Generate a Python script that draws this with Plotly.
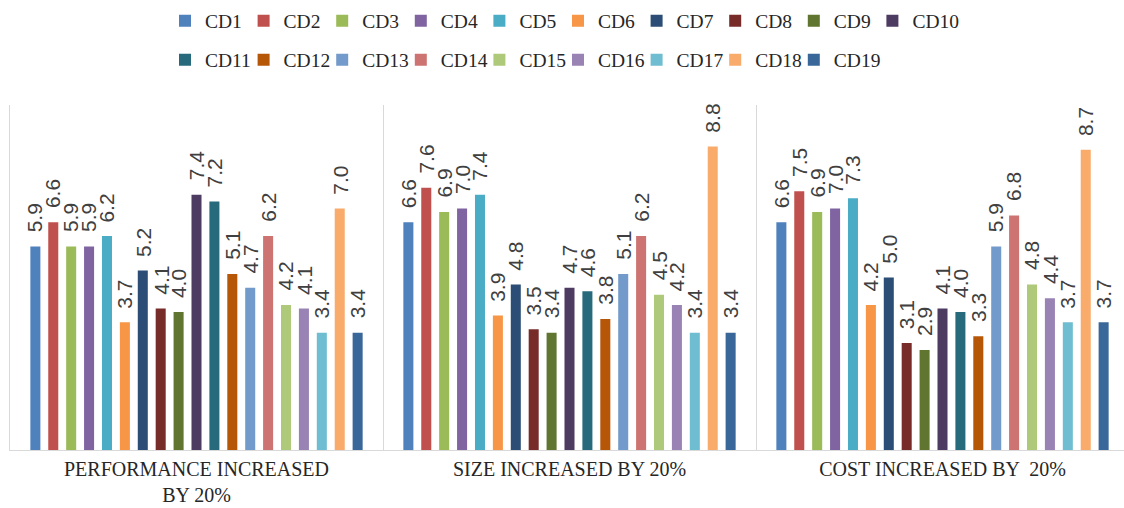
import plotly.graph_objects as go

# Category labels (x axis)
categories = ["PERFORMANCE INCREASED<br>BY 20%", "SIZE INCREASED BY 20%", "COST INCREASED BY  20%"]

# Series names
series = ["CD1", "CD2", "CD3", "CD4", "CD5", "CD6", "CD7", "CD8", "CD9", "CD10",
          "CD11", "CD12", "CD13", "CD14", "CD15", "CD16", "CD17", "CD18", "CD19"]

# Values per category, one entry per series
performance = [5.9, 6.6, 5.9, 5.9, 6.2, 3.7, 5.2, 4.1, 4.0, 7.4, 7.2, 5.1, 4.7, 6.2, 4.2, 4.1, 3.4, 7.0, 3.4]
size_vals = [6.6, 7.6, 6.9, 7.0, 7.4, 3.9, 4.8, 3.5, 3.4, 4.7, 4.6, 3.8, 5.1, 6.2, 4.5, 4.2, 3.4, 8.8, 3.4]
cost = [6.6, 7.5, 6.9, 7.0, 7.3, 4.2, 5.0, 3.1, 2.9, 4.1, 4.0, 3.3, 5.9, 6.8, 4.8, 4.4, 3.7, 8.7, 3.7]

colors = ["#4F81BD", "#C0504D", "#9BBB59", "#8064A2", "#4BACC6", "#F79646", "#2C4D75",
          "#772C2A", "#5F7530", "#4D3B62", "#276A7C", "#B65708", "#729ACA", "#CD7371",
          "#AFC97A", "#9983B5", "#6FBDD1", "#F9AB6B", "#3A6799"]

W, H = 1124, 508
M_L, M_R, M_T, M_B = 10, 0, 105, 58
GROUP_PX = 373  # pixel width of one category band
BARGAP = 0.088
BARGROUPGAP = 0.44
ROW_SPLIT = 10      # first legend row holds CD1..CD10
ENTRY_W = 33.6      # legend column width (plus the built-in symbol gap)

SERIF = "Liberation Serif"
SANS = "Liberation Sans"

groups = [performance, size_vals, cost]
n = len(series)
slot = (1 - BARGAP) / n

fig = go.Figure()
annotations = []
for j, name in enumerate(series):
    vals = [g[j] for g in groups]
    last_in_row = j == ROW_SPLIT - 1 or j == n - 1
    fig.add_trace(go.Bar(
        x=categories, y=vals, name=name,
        marker=dict(color=colors[j], line=dict(width=0)),
        legend="legend" if j < ROW_SPLIT else "legend2",
        legendwidth=70 if last_in_row else ENTRY_W,
        hoverinfo="skip",
    ))
    # value labels, rotated, sitting just above each bar
    for i, v in enumerate(vals):
        annotations.append(dict(
            x=i + (j - (n - 1) / 2) * slot, y=v, xref="x", yref="y",
            text=f"{v:.1f}", textangle=-90, showarrow=False,
            xanchor="center", yanchor="bottom", yshift=12,
            font=dict(family=SANS, size=21, color="#404040"),
        ))

plot_w = W - M_L - M_R
legend_font = dict(family=SERIF, size=19.5, color="#262626")
legend_common = dict(
    orientation="h", xref="container", yref="container",
    xanchor="left", yanchor="middle", font=legend_font,
    traceorder="normal", bgcolor="rgba(0,0,0,0)",
    itemwidth=30, entrywidthmode="pixels",
)

fig.update_layout(
    width=W, height=H,
    margin=dict(l=M_L, r=M_R, t=M_T, b=M_B),
    paper_bgcolor="white", plot_bgcolor="white",
    font=dict(family=SERIF),
    barmode="group", bargap=BARGAP, bargroupgap=BARGROUPGAP,
    annotations=annotations,
    xaxis=dict(
        type="category", automargin=False,
        range=[-0.5, -0.5 + plot_w / GROUP_PX],
        showline=True, linecolor="#D9D9D9", linewidth=1,
        showgrid=True, gridcolor="#D9D9D9", gridwidth=1, tickson="boundaries",
        ticks="", ticklabelstandoff=1,
        tickfont=dict(family=SERIF, size=20, color="#262626"),
        fixedrange=True,
    ),
    yaxis=dict(
        range=[0, 10], automargin=False, showticklabels=False, showgrid=False, zeroline=False,
        showline=True, linecolor="#D9D9D9", linewidth=1, fixedrange=True,
    ),
    legend=dict(x=165 / W, y=1 - 21 / H, **legend_common),
    legend2=dict(x=165 / W, y=1 - 60 / H, **legend_common),
)

fig.write_html("out.html")
